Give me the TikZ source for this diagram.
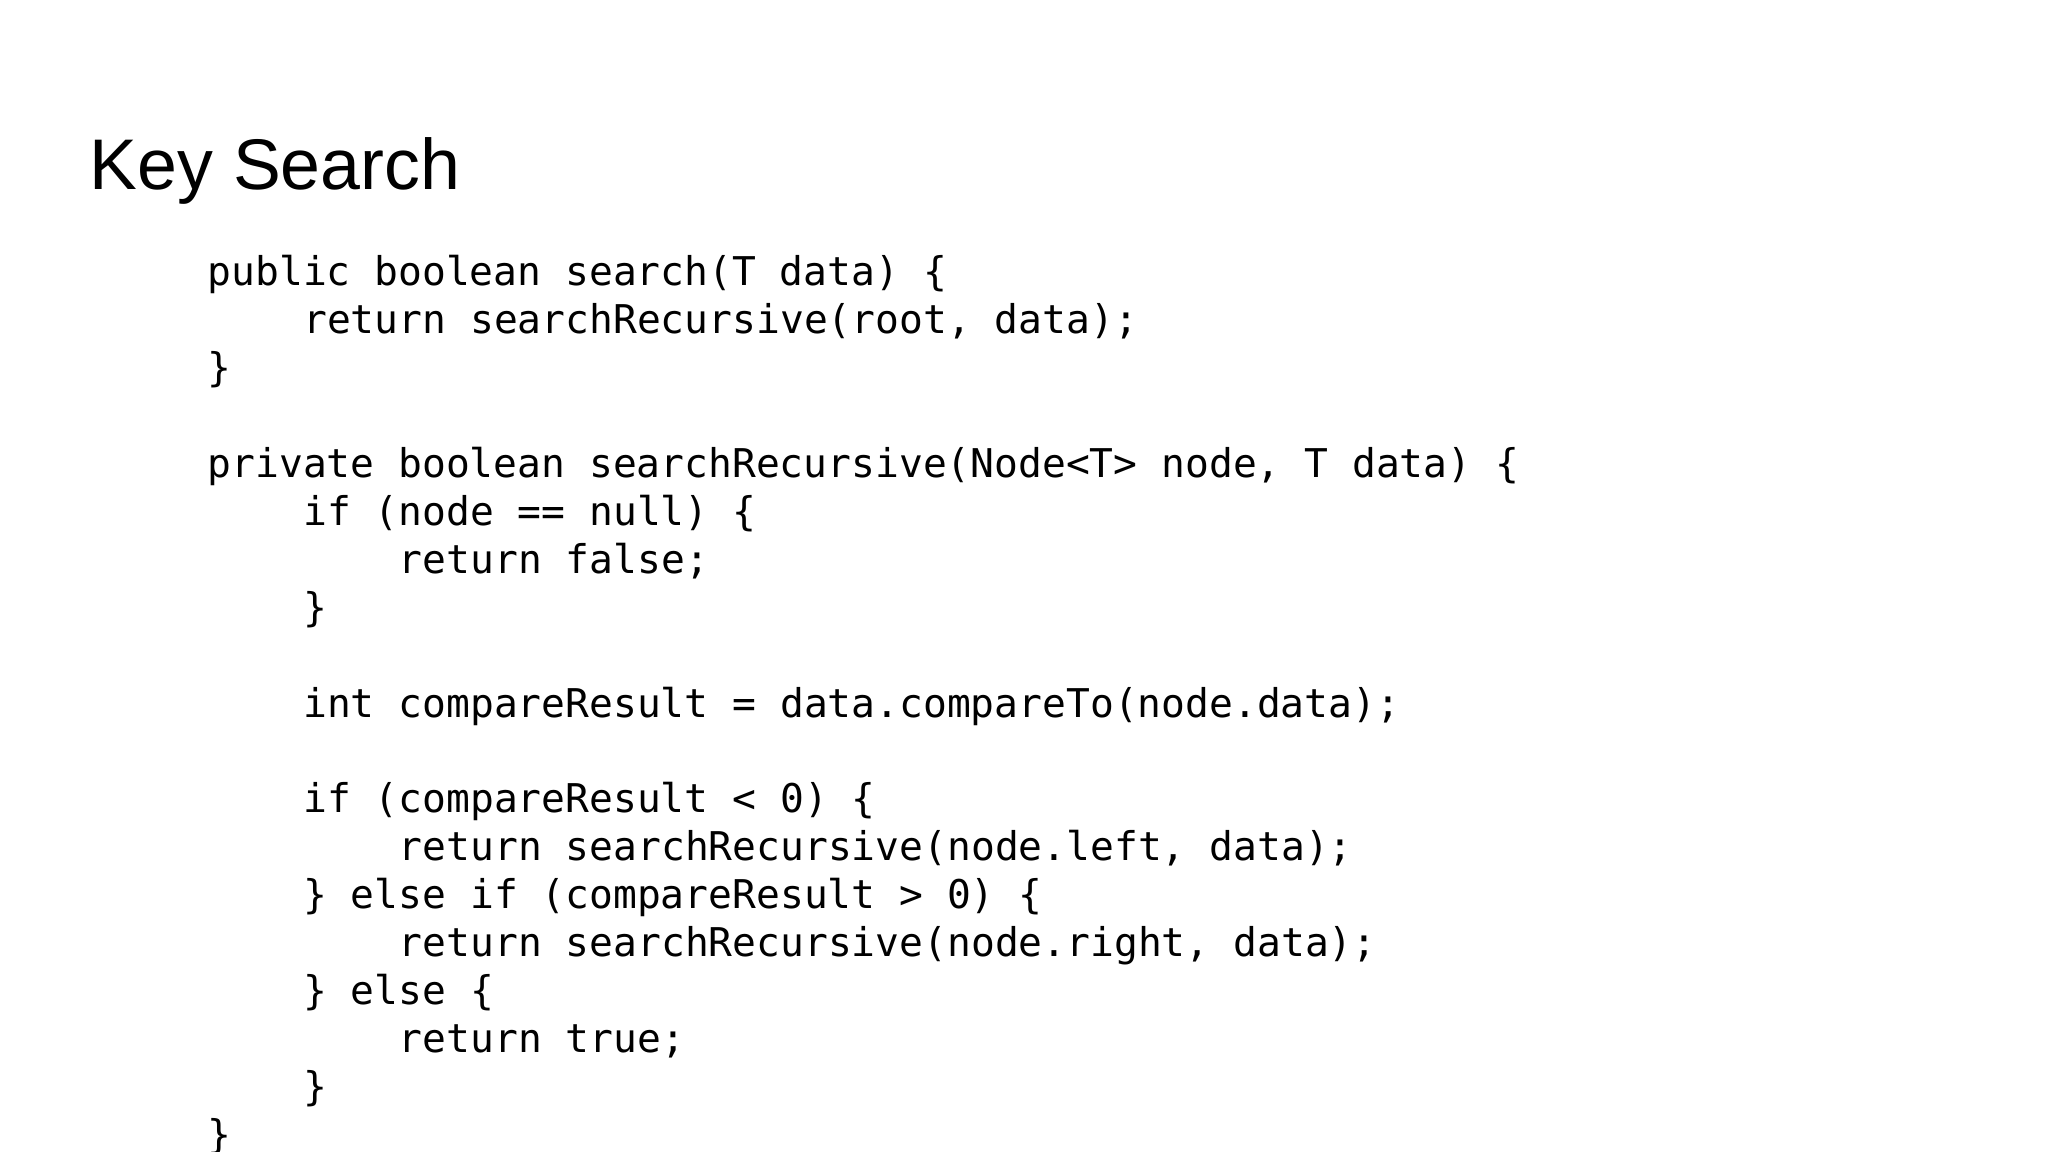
\documentclass[tikz,border=0pt]{standalone}
\usepackage{fontspec}
\setmainfont{Liberation Sans}
\newfontfamily\codefont{DejaVu Sans Mono}
\begin{document}
\begin{tikzpicture}[x=1cm,y=1cm,
  codeline/.style={anchor=base west,inner sep=0pt,font=\codefont\fontsize{11.27pt}{13pt}\selectfont},
  titletext/.style={anchor=base west,inner sep=0pt,font=\fontsize{20.4pt}{25pt}\selectfont}]
\useasboundingbox[fill=white] (0,0) rectangle (20.48,11.52);
\node[titletext] (title) at (0.89,9.62) {Key Search};
\def\px{2.07}\def\py{8.66}\def\lh{0.479}\def\cw{0.239}
\newcommand{\cl}[3]{\node[codeline] (l#1) at ({\px+#2*\cw},{\py-#1*\lh}) {#3};}
\cl{0}{0}{public boolean search(T data) \{}
\cl{1}{4}{return searchRecursive(root, data);}
\cl{2}{0}{\}}
\cl{4}{0}{private boolean searchRecursive(Node<T> node, T data) \{}
\cl{5}{4}{if (node == null) \{}
\cl{6}{8}{return false;}
\cl{7}{4}{\}}
\cl{9}{4}{int compareResult = data.compareTo(node.data);}
\cl{11}{4}{if (compareResult < 0) \{}
\cl{12}{8}{return searchRecursive(node.left, data);}
\cl{13}{4}{\} else if (compareResult > 0) \{}
\cl{14}{8}{return searchRecursive(node.right, data);}
\cl{15}{4}{\} else \{}
\cl{16}{8}{return true;}
\cl{17}{4}{\}}
\cl{18}{0}{\}}
\end{tikzpicture}
\end{document}
